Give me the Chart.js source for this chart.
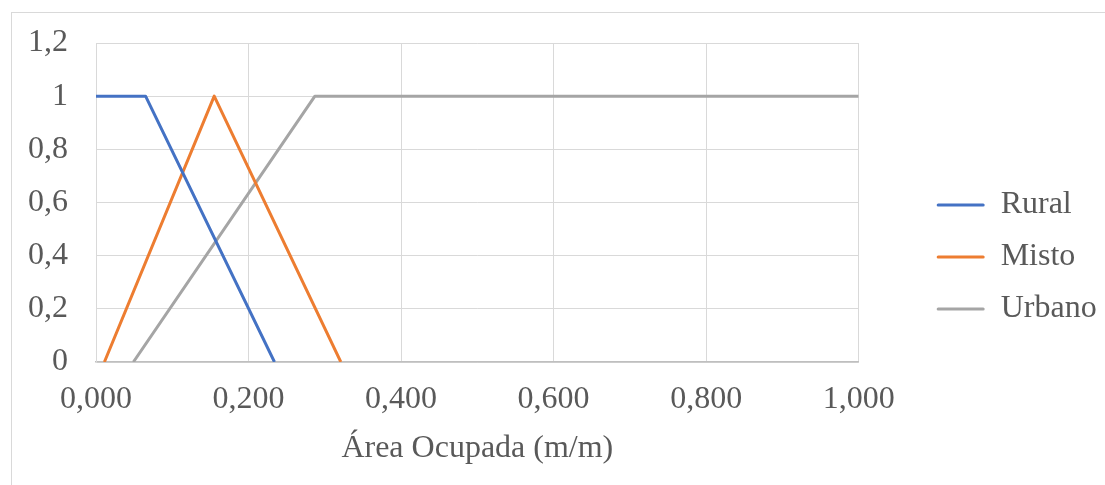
<!DOCTYPE html>
<html>
<head>
<meta charset="utf-8">
<script src="https://cdn.jsdelivr.net/npm/chart.js@4/dist/chart.umd.min.js"></script>
<style>
  html, body { margin: 0; padding: 0; background: #fff; overflow: hidden; }
  #frame {
    position: absolute; left: 11px; top: 12px; width: 1200px; height: 600px;
    border: 1px solid #d9d9d9; box-sizing: border-box;
  }
  #wrap { position: absolute; left: 0; top: 0; width: 1105px; height: 471px; }
</style>
</head>
<body>
<div id="frame"></div>
<div id="wrap"><canvas id="chart"></canvas></div>
<script>
// Pertinence curves
const seriesNames = ['Rural', 'Misto', 'Urbano'];
const seriesColors = ['#4472c4', '#ed7d31', '#a5a5a5'];

const ruralX = [0, 0.065, 0.234];
const ruralY = [1, 1, 0];
const mistoX = [0.011, 0.155, 0.321];
const mistoY = [0, 1, 0];
const urbanoX = [0.049, 0.287, 1.0];
const urbanoY = [0, 1, 1];

const xTickLabels = ['0,000', '0,200', '0,400', '0,600', '0,800', '1,000'];
const yTickLabels = ['0', '0,2', '0,4', '0,6', '0,8', '1', '1,2'];
const xTitle = 'Área Ocupada (m/m)';

const textColor = '#595959';
const gridColor = '#d9d9d9';
const fontFamily = '"Liberation Serif", "Times New Roman", serif';
const fontSize = 32;

function toPoints(xs, ys) {
    return xs.map((x, i) => ({ x: x, y: ys[i] }));
}

const seriesData = [
    toPoints(ruralX, ruralY),
    toPoints(mistoX, mistoY),
    toPoints(urbanoX, urbanoY)
];

const datasets = seriesNames.map((name, i) => ({
    label: name,
    data: seriesData[i],
    borderColor: seriesColors[i],
    backgroundColor: seriesColors[i],
    borderWidth: 3,
    borderJoinStyle: 'round',
    pointRadius: 0,
    tension: 0,
    fill: false
}));

new Chart(document.getElementById('chart'), {
    type: 'line',
    data: { datasets: datasets },
    options: {
        responsive: true,
        maintainAspectRatio: false,
        animation: false,
        layout: { padding: { top: 43, left: 0, right: 5, bottom: 0 } },
        plugins: {
            legend: {
                display: true,
                position: 'right',
                align: 'center',
                labels: {
                    boxWidth: 48,
                    boxHeight: 3,
                    padding: 20,
                    color: textColor,
                    font: { family: fontFamily, size: fontSize },
                    generateLabels: function(chart) {
                        return chart.data.datasets.map((ds, i) => ({
                            text: ds.label,
                            fillStyle: ds.borderColor,
                            strokeStyle: ds.borderColor,
                            lineWidth: 0,
                            borderRadius: 1.5,
                            fontColor: textColor,
                            hidden: false,
                            datasetIndex: i
                        }));
                    }
                }
            },
            tooltip: { enabled: false }
        },
        scales: {
            x: {
                type: 'linear',
                min: 0,
                max: 1,
                ticks: {
                    stepSize: 0.2,
                    color: textColor,
                    padding: 18,
                    font: { family: fontFamily, size: fontSize },
                    maxRotation: 0,
                    callback: function(value, index) {
                        return xTickLabels[index];
                    }
                },
                grid: { color: gridColor, lineWidth: 1, drawTicks: false },
                border: { color: '#bfbfbf', width: 1.5 },
                title: {
                    display: true,
                    text: xTitle,
                    color: textColor,
                    font: { family: fontFamily, size: fontSize },
                    padding: { top: -6.6, bottom: 2.8 }
                }
            },
            y: {
                type: 'linear',
                min: 0,
                max: 1.2,
                ticks: {
                    stepSize: 0.2,
                    color: textColor,
                    padding: 28,
                    font: { family: fontFamily, size: fontSize },
                    callback: function(value, index) {
                        return yTickLabels[index];
                    }
                },
                grid: { color: gridColor, lineWidth: 1, drawTicks: false },
                border: { color: gridColor, width: 1 },
                afterFit: function(scale) {
                    // keep the plot top where the layout padding puts it
                    scale.paddingTop = 0;
                }
            },
            // empty spacer between the plot and the legend
            y2: {
                type: 'linear',
                position: 'right',
                display: true,
                ticks: { display: false },
                grid: { display: false, drawTicks: false },
                border: { display: false },
                afterFit: function(scale) {
                    scale.width = 58;
                }
            }
        }
    }
});
</script>
</body>
</html>
